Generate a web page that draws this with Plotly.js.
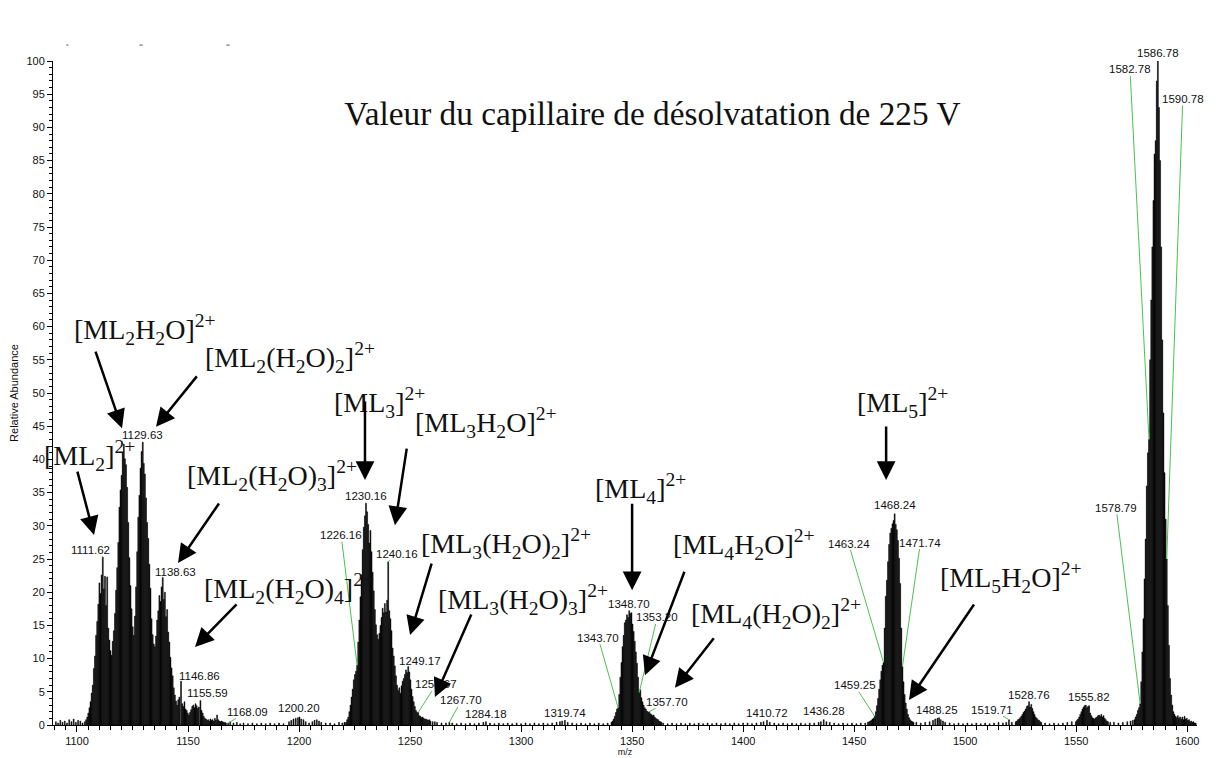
<!DOCTYPE html>
<html><head><meta charset="utf-8">
<script src="https://cdn.plot.ly/plotly-3.0.1.min.js"></script>
<style>html,body{margin:0;padding:0;background:#fff}#chart{width:1224px;height:758px}</style>
</head><body><div id="chart"></div>
<script>
// ---------------- DATA (m/z, relative abundance) ----------------
const noiseLow = [[1090.5,0.5],[1091.5,0.3],[1092.5,0.7],[1093.5,0.4],[1094.5,0.6],[1095.5,0.3],[1096.5,0.8],[1097.5,0.5],[1098.5,0.9],[1099.5,0.4],[1100.5,0.7],[1101.5,0.6],[1102.5,0.3],[1103.5,0.5]];
const clusterML2 = [[1104.1,0.8],[1104.6,1.2],[1105.1,1.8],[1105.6,2.6],[1106.1,3.5],[1106.6,4.8],[1107.1,6.0],[1107.6,8.5],[1108.1,10.4],[1108.6,13.5],[1109.1,15.6],[1109.6,18.2],[1110.1,21.4],[1110.6,19.8],[1111.1,22.6],[1111.62,25.3],[1112.1,20.5],[1112.6,22.4],[1113.1,18.0],[1113.6,22.3],[1114.1,14.6],[1114.6,12.8],[1115.1,11.2],[1115.6,10.5],[1116.1,12.6],[1116.6,14.2],[1117.1,16.8],[1117.6,20.3],[1118.1,23.7],[1118.6,27.5],[1119.1,32.8],[1119.6,35.4],[1120.1,37.6],[1120.6,41.0],[1121.1,42.3],[1121.6,40.1],[1122.1,39.2],[1122.6,35.8],[1123.1,30.5],[1123.6,25.2],[1124.1,21.0],[1124.6,17.5],[1125.1,14.8],[1125.6,13.5],[1126.1,16.4],[1126.6,20.8],[1127.1,26.1],[1127.6,31.3],[1128.1,34.6],[1128.6,38.7],[1129.1,41.2],[1129.63,42.6],[1130.1,39.4],[1130.6,37.8],[1131.1,34.2],[1131.6,30.5],[1132.1,28.1],[1132.6,24.2],[1133.1,20.6],[1133.6,16.0],[1134.1,13.6],[1134.6,12.2],[1135.1,11.8],[1135.6,13.4],[1136.1,15.8],[1136.6,17.2],[1137.1,19.5],[1137.6,18.6],[1138.1,20.8],[1138.63,22.2],[1139.1,18.9],[1139.6,20.0],[1140.1,16.3],[1140.6,17.4],[1141.1,14.0],[1141.6,12.5],[1142.1,10.2],[1142.6,8.6],[1143.1,7.4],[1143.6,5.6],[1144.1,4.5],[1144.6,3.6],[1145.1,3.0],[1145.6,3.8],[1146.1,4.2],[1146.86,6.6],[1147.4,3.2],[1147.9,2.8],[1148.4,3.5],[1148.9,2.4],[1149.4,2.2],[1149.9,1.8],[1150.4,1.5],[1150.9,1.9],[1151.4,2.3],[1151.9,2.8],[1152.4,3.0],[1152.9,2.6],[1153.4,3.2],[1153.9,2.9],[1154.4,2.5],[1154.9,2.7],[1155.59,3.7],[1156.1,2.2],[1156.6,1.8],[1157.1,1.3],[1157.6,1.0],[1158.1,0.9],[1158.6,0.7],[1159.1,0.8],[1159.6,0.6],[1160.1,0.9],[1160.6,0.7],[1161.1,0.8],[1161.6,0.6],[1162.1,1.0],[1162.6,0.7],[1163.1,1.5],[1163.6,0.8],[1164.1,0.6],[1164.6,0.5],[1165.1,0.6],[1165.6,0.5],[1166.1,0.4],[1166.6,0.4],[1167.1,0.3],[1168.09,0.3]];
const noiseMid1 = [[1169,0.5],[1170.5,0.3],[1172,0.4],[1173.5,0.2],[1175,0.3],[1177,0.2],[1179,0.3],[1181,0.2],[1183,0.3],[1185,0.2],[1187,0.3],[1189,0.2],[1191,0.3],[1193,0.2],[1195.5,0.5],[1196.5,0.7],[1197.5,0.9],[1198.5,1.0],[1199.5,1.1],[1200.2,1.2],[1201,0.9],[1202,0.8],[1203,0.5],[1204.5,0.3],[1206,0.5],[1207,0.7],[1208,0.8],[1209,0.6],[1210,0.4],[1212,0.3],[1214,0.3],[1216,0.2],[1218,0.4],[1219.5,0.3],[1220.5,0.4]];
const clusterML3 = [[1221.16,0.4],[1221.66,0.8],[1222.16,1.2],[1222.66,2.0],[1223.16,3.0],[1223.66,4.2],[1224.16,5.4],[1224.66,6.8],[1225.16,7.6],[1225.66,8.1],[1226.16,9.0],[1226.66,12.5],[1227.16,15.8],[1227.66,19.3],[1228.16,22.6],[1228.66,26.4],[1229.16,29.8],[1229.66,31.5],[1230.16,33.4],[1230.66,32.1],[1231.16,30.2],[1231.66,27.4],[1232.16,29.3],[1232.66,26.1],[1233.16,23.0],[1233.66,20.2],[1234.16,17.4],[1234.66,15.1],[1235.16,13.6],[1235.66,12.9],[1236.16,13.8],[1236.66,15.0],[1237.16,16.2],[1237.66,17.6],[1238.16,16.9],[1238.66,18.3],[1239.16,17.0],[1239.66,18.8],[1240.16,24.6],[1240.66,17.2],[1241.16,16.0],[1241.66,14.2],[1242.16,11.6],[1242.66,10.4],[1243.16,8.9],[1243.66,7.4],[1244.16,6.0],[1244.66,5.2],[1245.16,5.6],[1245.66,4.8],[1246.16,5.9],[1246.66,6.6],[1247.16,7.0],[1247.66,7.6],[1248.16,8.3],[1248.66,7.9],[1249.17,8.8],[1249.66,8.0],[1250.16,6.8],[1250.66,5.4],[1251.16,4.3],[1251.66,3.5],[1252.16,2.8],[1252.66,2.2],[1253.16,1.9],[1253.67,1.9],[1254.16,1.4],[1254.66,1.3],[1255.16,1.1],[1255.66,1.2],[1256.16,1.0],[1256.66,0.9],[1257.16,0.9],[1257.66,0.8],[1258.16,0.7],[1258.66,0.8],[1259.16,0.6],[1260.16,0.5],[1261.16,0.5],[1262.16,0.4],[1264.16,0.3],[1266.16,0.3]];
const noiseMid2 = [[1267.7,0.4],[1269,0.3],[1271,0.2],[1273,0.3],[1275,0.2],[1277,0.3],[1279,0.2],[1281,0.3],[1283,0.4],[1284.18,0.5],[1286,0.3],[1288,0.2],[1290,0.3],[1292,0.2],[1294,0.3],[1296,0.2],[1298,0.3],[1300,0.2],[1302,0.3],[1304,0.2],[1306,0.3],[1308,0.2],[1310,0.3],[1312,0.2],[1314,0.3],[1316,0.4],[1317.5,0.5],[1318.5,0.6],[1319.74,0.7],[1321,0.4],[1323,0.3],[1325,0.2],[1327,0.3],[1329,0.2],[1331,0.3],[1333,0.2],[1335,0.3],[1337,0.2],[1339,0.3]];
const clusterML4 = [[1340.7,0.4],[1341.2,0.6],[1341.7,0.9],[1342.2,1.3],[1342.7,1.9],[1343.2,2.4],[1343.7,2.6],[1344.2,4.6],[1344.7,7.2],[1345.2,9.4],[1345.7,11.8],[1346.2,13.5],[1346.7,15.4],[1347.2,15.8],[1347.7,16.6],[1348.2,16.2],[1348.7,17.2],[1349.2,16.8],[1349.7,16.9],[1350.2,15.2],[1350.7,14.1],[1351.2,12.6],[1351.7,11.0],[1352.2,9.3],[1352.7,7.2],[1353.2,4.9],[1353.7,5.3],[1354.2,4.1],[1354.7,3.5],[1355.2,3.0],[1355.7,2.6],[1356.2,2.4],[1356.7,2.1],[1357.2,1.9],[1357.7,2.0],[1358.2,1.7],[1358.7,1.6],[1359.2,1.4],[1359.7,1.5],[1360.2,1.2],[1360.7,1.0],[1361.2,0.9],[1361.7,0.8],[1362.2,0.6],[1362.7,0.5],[1363.2,0.4]];
const noiseMid3 = [[1364,0.3],[1366,0.2],[1368,0.3],[1370,0.2],[1372,0.3],[1374,0.2],[1376,0.3],[1378,0.2],[1380,0.3],[1382,0.2],[1384,0.3],[1386,0.2],[1388,0.3],[1390,0.2],[1392,0.3],[1394,0.2],[1396,0.3],[1398,0.2],[1400,0.3],[1402,0.3],[1404,0.2],[1406,0.3],[1408,0.4],[1409.2,0.5],[1410.72,0.7],[1412,0.4],[1414,0.3],[1416,0.2],[1418,0.3],[1420,0.2],[1422,0.3],[1424,0.2],[1426,0.3],[1428,0.2],[1430,0.3],[1432,0.3],[1434,0.4],[1435,0.5],[1436.28,0.8],[1437.5,0.5],[1439,0.4],[1441,0.3],[1443,0.2],[1445,0.3],[1447,0.2],[1449,0.3],[1451,0.2],[1453,0.3],[1455,0.3],[1456.2,0.4]];
const clusterML5 = [[1456.74,0.5],[1457.24,0.6],[1457.74,0.7],[1458.24,0.9],[1458.74,1.0],[1459.25,1.3],[1459.74,2.0],[1460.24,2.9],[1460.74,4.0],[1461.24,5.4],[1461.74,6.8],[1462.24,8.1],[1462.74,9.0],[1463.24,9.4],[1463.74,14.6],[1464.24,19.4],[1464.74,21.8],[1465.24,24.6],[1465.74,27.2],[1466.24,28.9],[1466.74,29.6],[1467.24,30.3],[1467.74,30.8],[1468.24,31.8],[1468.74,30.2],[1469.24,29.4],[1469.74,27.8],[1470.24,25.1],[1470.74,21.3],[1471.24,14.6],[1471.74,8.8],[1472.24,6.5],[1472.74,4.6],[1473.24,3.3],[1473.74,2.4],[1474.24,1.6],[1474.74,1.1],[1475.24,0.8],[1475.74,0.6],[1476.24,0.5],[1476.74,0.4]];
const noiseMid4 = [[1478,0.4],[1480,0.3],[1482,0.4],[1484,0.5],[1485.5,0.7],[1486.5,0.9],[1487.5,1.0],[1488.25,1.1],[1489,0.8],[1490,0.6],[1491,0.4],[1493,0.3],[1495,0.2],[1497,0.3],[1499,0.2],[1501,0.3],[1503,0.2],[1505,0.3],[1507,0.2],[1509,0.3],[1511,0.2],[1513,0.3],[1515,0.4],[1517,0.3],[1518.5,0.4],[1519.71,0.8],[1521,0.4]];
const cluster1528 = [[1522.76,0.5],[1523.26,0.6],[1523.76,0.8],[1524.26,0.9],[1524.76,1.1],[1525.26,1.3],[1525.76,1.6],[1526.26,1.9],[1526.76,2.1],[1527.26,2.4],[1527.76,2.8],[1528.26,2.9],[1528.76,3.5],[1529.26,2.7],[1529.76,3.1],[1530.26,2.5],[1530.76,2.0],[1531.26,1.6],[1531.76,1.2],[1532.26,1.0],[1532.76,0.8],[1533.26,0.7],[1533.76,0.5],[1534.26,0.4]];
const noiseMid5 = [[1536,0.3],[1538,0.2],[1540,0.3],[1542,0.2],[1544,0.3],[1546,0.4],[1548,0.5]];
const cluster1555 = [[1549.82,0.5],[1550.32,0.7],[1550.82,0.9],[1551.32,1.2],[1551.82,1.6],[1552.32,2.0],[1552.82,2.4],[1553.32,2.7],[1553.82,2.9],[1554.32,3.0],[1554.82,2.6],[1555.32,2.8],[1555.82,2.9],[1556.32,1.8],[1556.82,1.4],[1557.32,1.1],[1557.82,1.0],[1558.32,0.9],[1558.82,1.1],[1559.32,1.2],[1559.82,1.4],[1560.32,1.5],[1560.82,1.3],[1561.32,1.6],[1561.82,1.2],[1562.32,1.4],[1562.82,1.0],[1563.32,0.8],[1563.82,0.6],[1564.32,0.5],[1565.32,0.4]];
const noiseMid6 = [[1567,0.4],[1569,0.3],[1571,0.4],[1573,0.5],[1574.5,0.6],[1575.5,0.7]];
const clusterML6 = [[1576.28,0.8],[1576.78,1.2],[1577.28,1.6],[1577.78,2.2],[1578.28,2.6],[1578.79,3.2],[1579.28,6.5],[1579.78,11],[1580.28,16],[1580.78,22],[1581.28,28],[1581.78,36],[1582.28,41],[1582.78,43],[1583.28,55],[1583.78,64],[1584.28,72],[1584.78,79],[1585.28,86],[1585.78,88],[1586.28,97],[1586.78,100],[1587.28,93],[1587.78,85],[1588.28,72],[1588.78,58],[1589.28,47],[1589.78,38],[1590.28,31],[1590.78,25],[1591.28,18],[1591.78,12],[1592.28,7],[1592.78,4.5],[1593.28,3],[1593.78,2],[1594.28,1.6],[1594.78,1.3],[1595.28,1.1],[1595.78,1.4],[1596.28,1.0],[1596.78,1.2]];
const noiseHigh = [[1597.3,0.9],[1597.8,1.2],[1598.3,0.8],[1598.8,1.3],[1599.3,0.9],[1599.8,1.0],[1600.3,0.7],[1600.8,0.8],[1601.3,0.5],[1601.8,0.6],[1602.3,0.4],[1602.8,0.5],[1603.3,0.3],[1603.8,0.3]];

// labelled peaks (m/z values printed on the spectrum)
const peakLabelMz = [1111.62,1129.63,1138.63,1146.86,1155.59,1168.09,1200.20,1226.16,1230.16,1240.16,1249.17,1253.67,1267.70,1284.18,1319.74,1343.70,1348.70,1353.20,1357.70,1410.72,1436.28,1459.25,1463.24,1468.24,1471.74,1488.25,1519.71,1528.76,1555.82,1578.79,1582.78,1586.78,1590.78];

// species labels
const speciesLabels = [
 '[ML<sub>2</sub>]<sup>2+</sup>',
 '[ML<sub>2</sub>H<sub>2</sub>O]<sup>2+</sup>',
 '[ML<sub>2</sub>(H<sub>2</sub>O)<sub>2</sub>]<sup>2+</sup>',
 '[ML<sub>2</sub>(H<sub>2</sub>O)<sub>3</sub>]<sup>2+</sup>',
 '[ML<sub>2</sub>(H<sub>2</sub>O)<sub>4</sub>]<sup>2+</sup>',
 '[ML<sub>3</sub>]<sup>2+</sup>',
 '[ML<sub>3</sub>H<sub>2</sub>O]<sup>2+</sup>',
 '[ML<sub>3</sub>(H<sub>2</sub>O)<sub>2</sub>]<sup>2+</sup>',
 '[ML<sub>3</sub>(H<sub>2</sub>O)<sub>3</sub>]<sup>2+</sup>',
 '[ML<sub>4</sub>]<sup>2+</sup>',
 '[ML<sub>4</sub>H<sub>2</sub>O]<sup>2+</sup>',
 '[ML<sub>4</sub>(H<sub>2</sub>O)<sub>2</sub>]<sup>2+</sup>',
 '[ML<sub>5</sub>]<sup>2+</sup>',
 '[ML<sub>5</sub>H<sub>2</sub>O]<sup>2+</sup>',
 '[ML<sub>6</sub>]<sup>2+</sup>'
];
const titleText = 'Valeur du capillaire de désolvatation de 225 V';

// ---------------- LAYOUT CONFIG (positions / styles) ----------------
// label text offsets (px) from the peak top: [ax, ay, showLeader]
const peakLabelOffsets = [[-12,-7,1],[0,-7,0],[13,-6,1],[18,-5,1],[7,-7,1],[19,-11,1],[0,-9,0],[-16,-130,1],[0,-7,1],[9,-8,1],[12,-6,1],[18,-28,1],[12,-22,1],[0,-8,0],[0,-7,0],[-20,-70,1],[0,-7,0],[18,-75,1],[18,-10,1],[0,-7,0],[0,-9,0],[-20,-31,1],[-35,-119,1],[0,-9,0],[18,-124,1],[-2,-8,0],[-17,-10,1],[0,-7,0],[0,-9,0],[-24,-196,1],[-19,-370,1],[0,-8,0],[16,-460,1]];
// species label centres in data coordinates
const speciesPos = [[1105.86,40.66],[1130.5,59.49],[1196.0,55.42],[1187.8,37.65],[1195.49,20.63],[1236.03,48.64],[1284.22,45.63],[1293.23,27.41],[1300.88,18.83],[1353.58,35.69],[1400.42,27.11],[1414.84,16.72],[1471.59,48.64],[1520.68,22.14],[1595.44,103.9]];
// arrow tips (data) and tail offsets (px)
const arrowSpec = [[1107.67,28.6,-17,-65],[1120.28,44.7,-27,-78],[1135.59,44.9,42,-52],[1145.5,24.4,42,-61],[1153.16,11.75,43,-44],[1229.7,36.9,0,-80],[1243.2,30.1,12,-78],[1250.0,13.55,22,-73],[1261.2,4.2,37,-84],[1350.0,20.3,0,-88],[1355.8,7.5,40,-105],[1369.3,5.6,40,-51],[1464.4,36.9,0,-55],[1474.7,3.77,66,-97]];

const spectrum = [].concat(noiseLow, clusterML2, noiseMid1, clusterML3, noiseMid2, clusterML4, noiseMid3, clusterML5, noiseMid4, cluster1528, noiseMid5, cluster1555, noiseMid6, clusterML6, noiseHigh);
const mz = spectrum.map(p => p[0]);
const ab = spectrum.map(p => p[1]);
function abAt(m) { let best = 0, bd = 1e9; spectrum.forEach(p => { const d = Math.abs(p[0] - m); if (d < bd) { bd = d; best = p[1]; } }); return best; }

const annotations = [];
peakLabelMz.forEach((m, i) => {
  const o = peakLabelOffsets[i];
  annotations.push({
    x: m, y: abAt(m), xref: 'x', yref: 'y', text: m.toFixed(2),
    showarrow: true, arrowhead: 0, arrowwidth: 1,
    arrowcolor: o[2] ? '#4cc24c' : 'rgba(0,0,0,0)',
    ax: o[0], ay: o[1], borderpad: 0,
    font: {family: 'Liberation Sans, Arial, sans-serif', size: 11.5, color: '#111'}
  });
});
speciesLabels.forEach((t, i) => {
  annotations.push({
    x: speciesPos[i][0], y: speciesPos[i][1], xref: 'x', yref: 'y', text: t,
    showarrow: false, xanchor: 'center', yanchor: 'middle',
    font: {family: 'Liberation Serif, Times New Roman, serif', size: 28, color: '#111'}
  });
});
arrowSpec.forEach(a => {
  annotations.push({
    x: a[0], y: a[1], xref: 'x', yref: 'y', text: '', showarrow: true,
    ax: a[2], ay: a[3], arrowhead: 2, arrowsize: 1.5, arrowwidth: 2.5, arrowcolor: '#000'
  });
});

const trace = {
  type: 'bar', x: mz, y: ab, width: 0.42,
  marker: {color: '#000', line: {width: 0.5, color: '#000'}},
  hoverinfo: 'x+y'
};

const layout = {
  width: 1224, height: 758,
  margin: {l: 53, r: 27, t: 61, b: 33},
  paper_bgcolor: '#fff', plot_bgcolor: '#fff',
  showlegend: false,
  font: {family: 'Liberation Sans, Arial, sans-serif', color: '#111'},
  title: {
    text: titleText, x: 0.533, y: 0.851, xref: 'container', yref: 'container',
    xanchor: 'center', yanchor: 'middle',
    font: {family: 'Liberation Serif, Times New Roman, serif', size: 33.3, color: '#111'}
  },
  xaxis: {
    range: [1089.2, 1604.4], tick0: 1100, dtick: 50, showgrid: false, zeroline: false,
    showline: true, linecolor: '#000', linewidth: 1, mirror: false,
    ticks: 'outside', ticklen: 6, tickwidth: 1, tickcolor: '#000',
    minor: {dtick: 5, ticklen: 4, tickwidth: 1, tickcolor: '#000', ticks: 'outside', showgrid: false},
    tickfont: {size: 11, color: '#111'},
    title: {text: 'm/z', font: {size: 9, color: '#111'}, standoff: 2}
  },
  yaxis: {
    range: [0, 100], tick0: 0, dtick: 5, showgrid: false, zeroline: false,
    showline: true, linecolor: '#000', linewidth: 1,
    ticks: 'outside', ticklen: 5, tickwidth: 1, tickcolor: '#000',
    minor: {dtick: 1, ticklen: 3, tickwidth: 1, tickcolor: '#000', ticks: 'outside', showgrid: false},
    tickfont: {size: 11, color: '#111'},
    title: {text: 'Relative Abundance', font: {size: 11, color: '#111'}, standoff: 5}
  },
  annotations: annotations,
  shapes: [
    {type: 'line', xref: 'paper', yref: 'paper', x0: 0.0115, x1: 0.0135, y0: 1.024, y1: 1.024, line: {color: '#55558a', width: 1}},
    {type: 'line', xref: 'paper', yref: 'paper', x0: 0.0755, x1: 0.0785, y0: 1.024, y1: 1.024, line: {color: '#55558a', width: 1}},
    {type: 'line', xref: 'paper', yref: 'paper', x0: 0.1515, x1: 0.1545, y0: 1.024, y1: 1.024, line: {color: '#55558a', width: 1}}
  ]
};

Plotly.newPlot('chart', [trace], layout, {displayModeBar: false, staticPlot: true});
</script>
</body></html>
